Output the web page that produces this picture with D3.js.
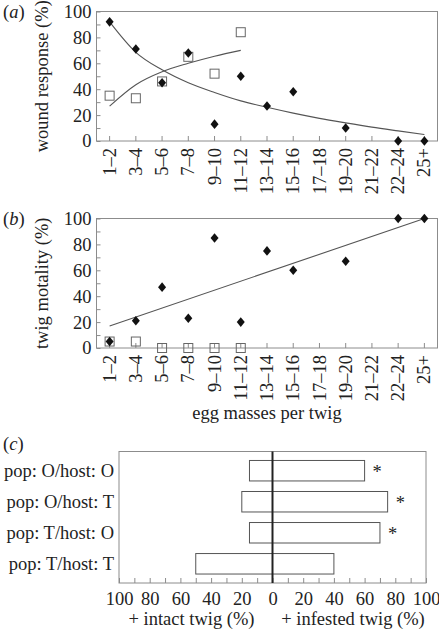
<!DOCTYPE html>
<html><head><meta charset="utf-8">
<script src="https://cdn.jsdelivr.net/npm/d3@7"></script>
<style>
html,body{margin:0;padding:0;background:#fff;}
svg{display:block;}
text{font-family:"Liberation Serif","Times New Roman",serif;fill:#222;}
</style></head>
<body>
<svg id="chart" width="439" height="631"></svg>
<script>
// ---- data ----
const categories = ["1–2","3–4","5–6","7–8","9–10","11–12","13–14","15–16","17–18","19–20","21–22","22–24","25+"];
// (a) wound response (%)
const woundDiamond = [92,71,45,68,13,50,27,38,null,10,null,0,0];
const woundSquare = [35,33,46,65,52,84];
const woundTrendDown = [92,68.5,55,45,37.5,31,26,21.5,17.5,14,10.7,7.8,5];
const woundTrendUp = [27,43.5,53.5,60,65.5,70];
// (b) twig mortality (%)
const mortDiamond = [5,21,47,23,85,20,75,60,null,67,null,100,100];
const mortSquare = [5,5,0,0,0,0];
const mortTrendCats = ["1–2","25+"];
const mortTrendVals = [17,100];
const yTicks = [0,10,20,30,40,50,60,70,80,90,100];
// (c)
const groups = ["pop: O/host: O","pop: O/host: T","pop: T/host: O","pop: T/host: T"];
const intact = [15,20,15,50];
const infested = [60,75,70,40];
const signif = ["*","*","*",""];
const cTicks = [-100,-90,-80,-70,-60,-50,-40,-30,-20,-10,0,10,20,30,40,50,60,70,80,90,100];

const FS = 18.5;
const svg = d3.select("#chart");
const boxColor = "#8c8c8c";

function diamond(g, x, y){
  g.append("path").attr("d", `M${x},${y-4.8}L${x+4},${y}L${x},${y+4.8}L${x-4},${y}Z`).attr("fill","#111");
}
function square(g, x, y){
  g.append("rect").attr("x", x-4.5).attr("y", y-4.5).attr("width",9).attr("height",9)
   .attr("fill","none").attr("stroke","#666").attr("stroke-width",1);
}

function scatterPanel(opts){
  const {top, bottom, left, right, diamonds, squares, label, ylabel, trends} = opts;
  const g = svg.append("g");
  const x = d3.scaleBand().domain(categories).range([left, right]);
  const cx = c => x(c) + x.bandwidth()/2;
  const y = d3.scaleLinear().domain([0,100]).range([bottom, top]);
  // box
  g.append("rect").attr("x",left).attr("y",top).attr("width",right-left).attr("height",bottom-top)
   .attr("fill","none").attr("stroke",boxColor).attr("stroke-width",1);
  // y axis
  const ya = g.append("g").attr("transform",`translate(${left},0)`)
    .call(d3.axisLeft(y).tickValues(yTicks).tickSizeInner(-4).tickSizeOuter(0).tickPadding(5)
      .tickFormat(d => d % 20 === 0 ? d : ""));
  ya.select(".domain").remove();
  ya.selectAll("line").attr("stroke",boxColor);
  ya.selectAll("text").attr("font-size",FS).attr("fill","#222").attr("font-family","Liberation Serif");
  // x axis
  const xa = g.append("g").attr("transform",`translate(0,${bottom})`)
    .call(d3.axisBottom(x).tickSizeInner(-5).tickSizeOuter(0));
  xa.select(".domain").remove();
  xa.selectAll("line").attr("stroke",boxColor);
  xa.selectAll("text").attr("font-size",FS).attr("fill","#222").attr("font-family","Liberation Serif")
    .attr("transform","rotate(-90)").attr("x",-7).attr("y",0).attr("dy","0.33em").attr("text-anchor","end");
  // trends
  const line = d3.line().x(d => cx(d[0])).y(d => y(d[1]));
  trends.forEach(t => {
    g.append("path").datum(t.cats.map((c,i)=>[c,t.vals[i]]))
     .attr("d", line.curve(t.curve || d3.curveLinear))
     .attr("fill","none").attr("stroke","#555").attr("stroke-width",1.1);
  });
  // squares
  squares.forEach((v,i) => { if(v!=null) square(g, cx(categories[i]), y(v)); });
  // diamonds
  diamonds.forEach((v,i) => { if(v!=null) diamond(g, cx(categories[i]), y(v)); });
  // panel label
  const pl = g.append("text").attr("x",3).attr("y",top+6).attr("font-size",FS);
  pl.append("tspan").text("(");
  pl.append("tspan").attr("font-style","italic").text(label);
  pl.append("tspan").text(")");
  // y label
  g.append("text").attr("transform",`translate(${left-49},${(top+bottom)/2}) rotate(-90)`)
   .attr("text-anchor","middle").attr("font-size",FS).text(ylabel);
  return {x, y};
}

scatterPanel({top:11.5, bottom:141, left:96.5, right:437.5,
  diamonds: woundDiamond, squares: woundSquare, label:"a", ylabel:"wound response (%)",
  trends:[
    {cats: categories, vals: woundTrendDown, curve: d3.curveMonotoneX},
    {cats: categories.slice(0,6), vals: woundTrendUp, curve: d3.curveMonotoneX}
  ]});

scatterPanel({top:218.5, bottom:348, left:96.5, right:437.5,
  diamonds: mortDiamond, squares: mortSquare, label:"b", ylabel:"twig motality (%)",
  trends:[{cats: mortTrendCats, vals: mortTrendVals}]});

svg.append("text").attr("x",267).attr("y",419).attr("text-anchor","middle").attr("font-size",FS)
  .text("egg masses per twig");

// ---- panel (c) ----
(function(){
  const top = 451.5, bottom = 583, left = 119, right = 426;
  const g = svg.append("g");
  const x = d3.scaleLinear().domain([-100,100]).range([left,right]);
  const y = d3.scaleBand().domain(groups).range([455.2,579.3]).paddingInner(0.34).paddingOuter(0.17);
  g.append("rect").attr("x",left).attr("y",top).attr("width",right-left).attr("height",bottom-top)
   .attr("fill","none").attr("stroke",boxColor).attr("stroke-width",1);
  const xa = g.append("g").attr("transform",`translate(0,${bottom})`)
    .call(d3.axisBottom(x).tickValues(cTicks).tickSizeInner(-5).tickSizeOuter(0).tickPadding(9)
      .tickFormat(d => d % 20 === 0 ? Math.abs(d) : ""));
  xa.select(".domain").remove();
  xa.selectAll("line").attr("stroke",boxColor);
  xa.selectAll("text").attr("font-size",FS).attr("fill","#222").attr("font-family","Liberation Serif");
  // bars
  groups.forEach((grp,i) => {
    g.append("rect").attr("x", x(-intact[i])).attr("y", y(grp))
     .attr("width", x(infested[i]) - x(-intact[i])).attr("height", y.bandwidth())
     .attr("fill","none").attr("stroke","#555").attr("stroke-width",1);
    if (signif[i]) {
      g.append("text").attr("x", x(infested[i]) + 8).attr("y", y(grp) + y.bandwidth()/2 + 7)
       .attr("font-size",FS).attr("fill","#444").text(signif[i]);
    }
    g.append("text").attr("x", left-5).attr("y", y(grp)+y.bandwidth()/2).attr("dy","0.33em")
     .attr("text-anchor","end").attr("font-size",FS).text(grp);
  });
  // zero line
  g.append("line").attr("x1",x(0)).attr("x2",x(0)).attr("y1",top).attr("y2",bottom)
   .attr("stroke","#222").attr("stroke-width",2);
  const pl = g.append("text").attr("x",3).attr("y",450).attr("font-size",FS);
  pl.append("tspan").text("(");
  pl.append("tspan").attr("font-style","italic").text("c");
  pl.append("tspan").text(")");
  g.append("text").attr("x",191.5).attr("y",625).attr("text-anchor","middle").attr("font-size",FS).text("+ intact twig (%)");
  g.append("text").attr("x",353).attr("y",625).attr("text-anchor","middle").attr("font-size",FS).text("+ infested twig (%)");
})();
</script>
</body></html>
